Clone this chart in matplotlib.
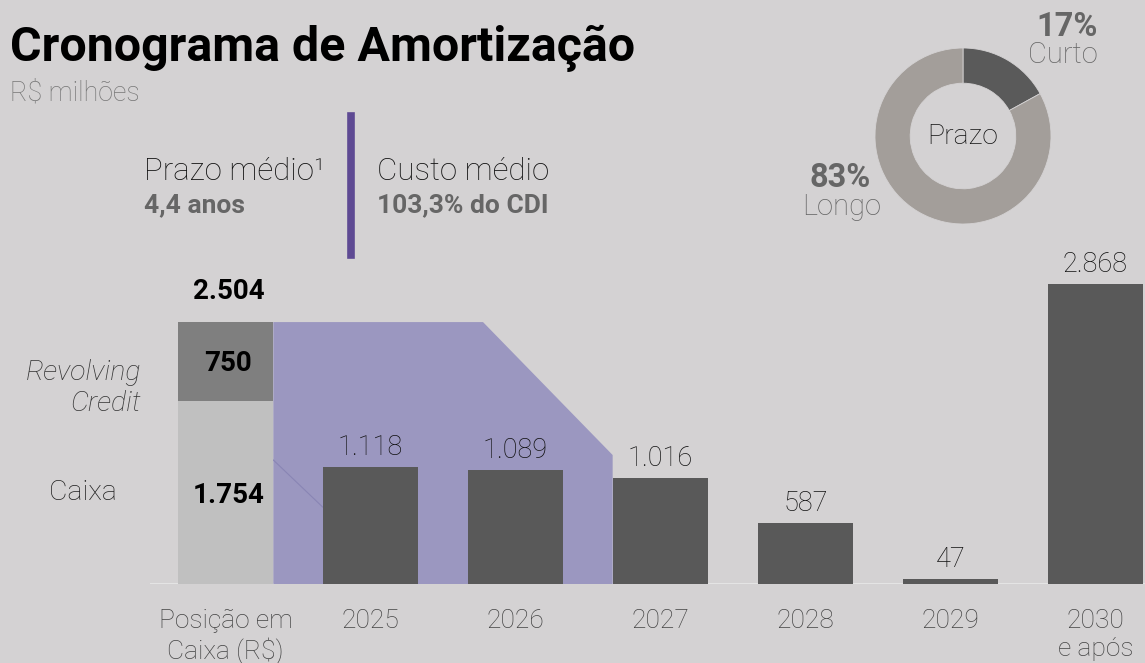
import numpy as np
import matplotlib
matplotlib.use("Agg")
import matplotlib.pyplot as plt

plt.rcParams['font.family'] = ['Roboto', 'DejaVu Sans']

# dados
anos = ["Posição em\nCaixa (R$)", "2025", "2026", "2027", "2028", "2029", "2030\ne após"]
amortizacao = [1118, 1089, 1016, 587, 47, 2868]
caixa = 1754
revolving = 750
prazo_labels = ["Curto", "Longo"]
prazo_pct = [17, 83]
# area de cobertura do caixa (x em posicao de barra, y em R$ milhoes)
cobertura_x = [0.33, 1.776, 2.67, 2.67, 0.33]
cobertura_y = [2504, 2504, 1233, 0, 0]

BG = '#d4d2d3'
W, H = 1145, 663
PXU = 0.1046  # px por R$ milhao

def fx(px):
    return px / W

def fy(py):
    return 1 - py / H

def br(v):
    return f"{v:,}".replace(",", ".")

fig = plt.figure(figsize=(W / 100, H / 100), dpi=100, facecolor=BG)

# eixo principal: 1 unidade x = 145 px, centro da barra 0 em 225.5 px
x0, x1 = (150 - 225.5) / 145, (1145 - 225.5) / 145
ax = fig.add_axes([fx(150), fy(584), fx(1145 - 150), 3000 * PXU / H])
ax.set_facecolor(BG)
ax.set_xlim(x0, x1)
ax.set_ylim(0, 3000)
ax.axis('off')

bw = 0.66
ax.fill(cobertura_x, cobertura_y, color='#9b97c0', lw=0, zorder=1)
ax.plot([0.33, 0.67], [1185, 736], color='#8985b4', lw=0.8, zorder=1)

# barra de caixa
ax.bar(0, caixa, width=bw, color='#c0c0c0', zorder=2)
ax.bar(0, revolving, bottom=caixa, width=bw, color='#7f7f7f', zorder=2)
total = caixa + revolving
ax.text(0.02, caixa / 2 - 35, br(caixa), ha='center', va='center',
        fontsize=20, fontweight='bold', color='black', zorder=3)
ax.text(0.02, caixa + revolving / 2 - 20, br(revolving), ha='center', va='center',
        fontsize=20, fontweight='bold', color='black', zorder=3)
ax.text(0.02, total + 290, br(total), ha='center', va='center',
        fontsize=20, fontweight='bold', color='black', zorder=3)

# barras de amortizacao
xs = np.arange(1, len(amortizacao) + 1)
ax.bar(xs, amortizacao, width=bw, color='#595959', zorder=2)
for x, v in zip(xs, amortizacao):
    ax.text(x, v + 185, br(v), ha='center', va='center',
            fontsize=19.5, fontweight='light', color='#111111', zorder=3)

ax.axhline(0, xmin=0, xmax=1, color='#e4e4e4', lw=1.5, zorder=0)

# rotulos do eixo x
for i, lab in enumerate(anos):
    ax.text(i, -240, lab, ha='center', va='top', fontsize=19, fontweight='light',
            color='#444444', linespacing=1.2, clip_on=False)

# rotulos a esquerda
fig.text(fx(141), fy(388), "Revolving\nCredit", ha='right', va='center', fontsize=20.5,
         style='italic', fontweight='light', color='#333333', linespacing=1.15)
fig.text(fx(82.5), fy(492), "Caixa", ha='center', va='center', fontsize=20.5,
         fontweight='light', color='#222222')

# titulo
fig.text(fx(10), fy(48), "Cronograma de Amortização", ha='left', va='center',
         fontsize=34.8, fontweight='bold', color='black')
fig.text(fx(10), fy(93), "R$ milhões", ha='left', va='center', fontsize=19.3,
         fontweight='light', color='#777777')

# destaques
fig.text(fx(144), fy(172), "Prazo médio¹", ha='left', va='center', fontsize=22.5,
         fontweight='light', color='#111111')
fig.text(fx(144), fy(205), "4,4 anos", ha='left', va='center', fontsize=19,
         fontweight='bold', color='#666666')
fig.text(fx(377), fy(172), "Custo médio", ha='left', va='center', fontsize=22.5,
         fontweight='light', color='#111111')
fig.text(fx(377), fy(205), "103,3% do CDI", ha='left', va='center', fontsize=19,
         fontweight='bold', color='#666666')
fig.add_artist(plt.Line2D([fx(351), fx(351)], [fy(116), fy(255)], color='#5e4a93',
                          lw=5.5, transform=fig.transFigure))

# rosca
axp = fig.add_axes([fx(875), fy(224), fx(176), 176 / H])
axp.pie(prazo_pct, colors=['#5a5a5a', '#a39e9a'], startangle=90, counterclock=False,
        radius=1, wedgeprops=dict(width=0.4, edgecolor=BG, linewidth=0.6))
axp.set_xlim(-1, 1)
axp.set_ylim(-1, 1)
axp.set_aspect('equal')
axp.text(0, 0, "Prazo", ha='center', va='center', fontsize=20.5, fontweight='light',
         color='#111111')

fig.text(fx(1067), fy(27), f"{prazo_pct[0]}%", ha='center', va='center', fontsize=23.5,
         fontweight='bold', color='#666666')
fig.text(fx(1063), fy(55), prazo_labels[0], ha='center', va='center', fontsize=21,
         fontweight='light', color='#666666')
fig.text(fx(840), fy(178), f"{prazo_pct[1]}%", ha='center', va='center', fontsize=23.5,
         fontweight='bold', color='#666666')
fig.text(fx(842), fy(207), prazo_labels[1], ha='center', va='center', fontsize=21,
         fontweight='light', color='#666666')

fig.savefig("out.png", dpi=100, facecolor=BG)
